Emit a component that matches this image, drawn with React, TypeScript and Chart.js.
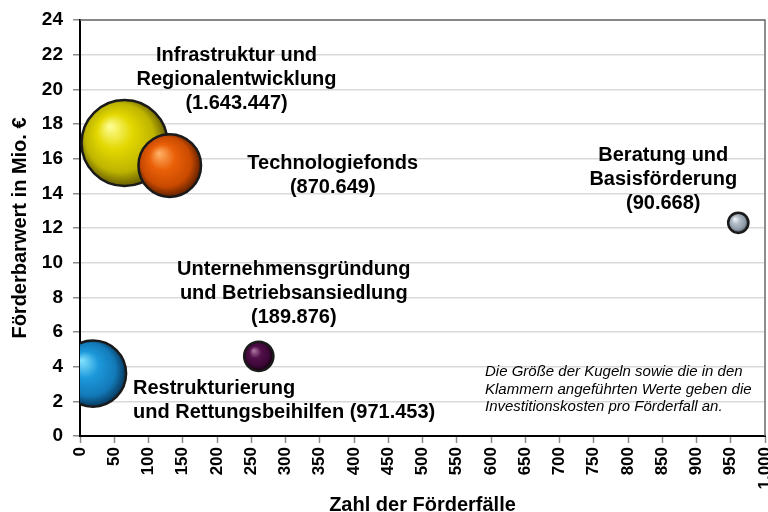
import { useEffect, useRef } from 'react';
import { Chart, registerables } from 'chart.js';

Chart.register(...registerables);

// ---- data ----
const categories: string[][] = [
  ['Infrastruktur und', 'Regionalentwicklung'],
  ['Technologiefonds'],
  ['Restrukturierung', 'und Rettungsbeihilfen'],
  ['Unternehmensgründung', 'und Betriebsansiedlung'],
  ['Beratung und', 'Basisförderung'],
];
const cases = [65, 131, 19, 261, 961]; // Zahl der Förderfälle
const values = [16.9, 15.6, 3.6, 4.6, 12.3]; // Förderbarwert in Mio. €
const costs = [1643447, 870649, 971453, 189876, 90668]; // Investitionskosten pro Förderfall

const xTitle = 'Zahl der Förderfälle';
const yTitle = 'Förderbarwert in Mio. €';
const noteLines = [
  'Die Größe der Kugeln sowie die in den',
  'Klammern angeführten Werte geben die',
  'Investitionskosten pro Förderfall an.',
];

// ---- styles ----
const sphereColors = [
  ['#ffff9a', '#e3d800', '#beb400', '#6e6400'],
  ['#ffb468', '#ea6008', '#c94a00', '#6a2400'],
  ['#86e4ff', '#1c98da', '#137ab8', '#083e66'],
  ['#b27aa6', '#520f4a', '#3e0838', '#160012'],
  ['#f6f9fc', '#b0bcc8', '#8e9aa6', '#48505a'],
];
const labelStyles = [
  { dx: 112, dy: -88, align: 'center', inline: false },
  { dx: 163, dy: -2, align: 'center', inline: false },
  { dx: 40, dy: 15, align: 'left', inline: true },
  { dx: 35, dy: -87, align: 'center', inline: false },
  { dx: -75, dy: -67, align: 'center', inline: false },
];
const MAX_R = 43;
const FONT = '"Liberation Sans", Arial, Helvetica, sans-serif';

const fmt = (n: number) => String(n).replace(/\B(?=(\d{3})+(?!\d))/g, '.');
const radiusOf = (i: number) => MAX_R * Math.sqrt(costs[i] / Math.max(...costs));

const overlayPlugin = {
  id: 'overlay',
  afterDatasetsDraw(chart: any) {
    const { ctx, chartArea, scales } = chart;
    const xs = scales.x;
    const ys = scales.y;
    ctx.save();
    // frame (top and right)
    ctx.strokeStyle = '#6a6a6a';
    ctx.lineWidth = 1.5;
    ctx.beginPath();
    ctx.moveTo(chartArea.left, chartArea.top);
    ctx.lineTo(chartArea.right, chartArea.top);
    ctx.lineTo(chartArea.right, chartArea.bottom);
    ctx.stroke();

    // bubble labels
    ctx.fillStyle = '#000';
    ctx.font = `bold 20px ${FONT}`;
    ctx.textBaseline = 'middle';
    categories.forEach((lines, i) => {
      const st = labelStyles[i];
      const px = xs.getPixelForValue(cases[i]) + st.dx;
      const py = ys.getPixelForValue(values[i]) + st.dy;
      const cost = '(' + fmt(costs[i]) + ')';
      const all = st.inline
        ? [...lines.slice(0, -1), lines[lines.length - 1] + ' ' + cost]
        : [...lines, cost];
      ctx.textAlign = st.align;
      all.forEach((t, k) => ctx.fillText(t, px, py + k * 24));
    });

    // note
    ctx.font = `italic 15px ${FONT}`;
    ctx.textAlign = 'left';
    noteLines.forEach((t, k) =>
      ctx.fillText(t, chartArea.right - 280, chartArea.bottom - 64 + k * 17.5)
    );
    ctx.restore();
  },
};

export default function App() {
  const ref = useRef<HTMLCanvasElement>(null);
  useEffect(() => {
    document.body.style.margin = '0';
    const canvas = ref.current!;
    const chart = new Chart(canvas, {
      type: 'bubble',
      data: {
        datasets: [
          {
            data: cases.map((c, i) => ({ x: c, y: values[i], r: radiusOf(i) })),
            clip: 0 as any,
            borderColor: '#1a1a1a',
            borderWidth: 2.5,
            backgroundColor: (ctx: any) => {
              const i = ctx.dataIndex ?? 0;
              const cols = sphereColors[i] || sphereColors[0];
              const chart = ctx.chart;
              const xs = chart.scales?.x;
              const ys = chart.scales?.y;
              if (ctx.type !== 'data' || !xs || !ys) return cols[1];
              const px = xs.getPixelForValue(cases[i]);
              const py = ys.getPixelForValue(values[i]);
              if (!isFinite(px) || !isFinite(py)) return cols[1];
              const r = radiusOf(i);
              const g = chart.ctx.createRadialGradient(
                px - r * 0.35, py - r * 0.4, 0,
                px - r * 0.05, py - r * 0.05, r * 1.02
              );
              g.addColorStop(0, cols[0]);
              g.addColorStop(0.4, cols[1]);
              g.addColorStop(0.78, cols[2]);
              g.addColorStop(1, cols[3]);
              return g;
            },
          },
        ],
      },
      options: {
        responsive: false,
        animation: false,
        devicePixelRatio: 1,
        events: [],
        layout: { autoPadding: false, padding: { top: 20, right: 3, left: 0, bottom: 0 } },
        plugins: {
          legend: { display: false },
          tooltip: { enabled: false },
        },
        scales: {
          x: {
            type: 'linear',
            min: 0,
            max: 1000,
            afterFit: (s: any) => {
              s.height = 76;
              s.paddingRight = 0;
              s.paddingLeft = 0;
            },
            ticks: {
              stepSize: 50,
              autoSkip: false,
              minRotation: 90,
              maxRotation: 90,
              padding: 4,
              color: '#000',
              font: { family: FONT, size: 17, weight: 'bold' },
              callback: (v: any) => fmt(Number(v)),
            },
            grid: {
              drawOnChartArea: false,
              tickLength: 7,
              tickColor: '#8a8a8a',
              tickWidth: 1.5,
            },
            border: { color: '#000', width: 2 },
            title: {
              display: true,
              text: xTitle,
              color: '#000',
              font: { family: FONT, size: 20, weight: 'bold', lineHeight: 0.7 },
              padding: { top: 0, bottom: 0 },
            },
          },
          y: {
            type: 'linear',
            min: 0,
            max: 24,
            afterFit: (s: any) => {
              s.width = 80;
              s.paddingTop = 0;
            },
            ticks: {
              stepSize: 2,
              padding: 10,
              color: '#000',
              font: { family: FONT, size: 19, weight: 'bold' },
            },
            grid: {
              color: '#d9d9d9',
              lineWidth: 1.5,
              tickLength: 7,
              tickColor: '#8a8a8a',
              tickWidth: 1.5,
            },
            border: { color: '#000', width: 2 },
            title: {
              display: true,
              text: yTitle,
              color: '#000',
              font: { family: FONT, size: 20, weight: 'bold' },
              padding: { top: 8, bottom: 0 },
            },
          },
        },
      },
      plugins: [overlayPlugin],
    } as any);
    return () => chart.destroy();
  }, []);
  return (
    <div style={{ width: 768, height: 512 }}>
      <canvas ref={ref} width={768} height={512} style={{ display: 'block' }} />
    </div>
  );
}
